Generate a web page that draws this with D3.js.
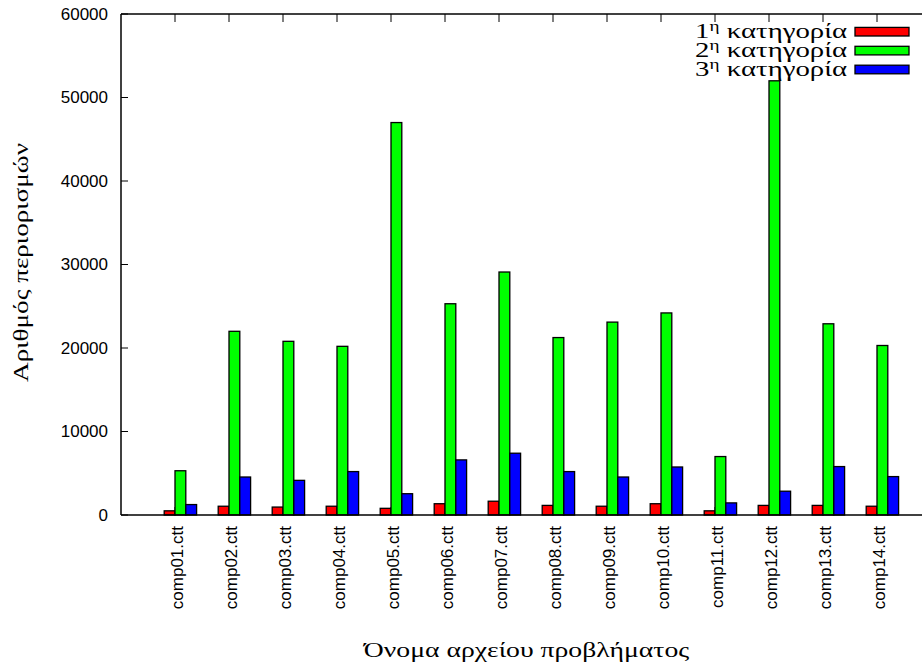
<!DOCTYPE html>
<html>
<head>
<meta charset="utf-8">
<script src="https://cdn.jsdelivr.net/npm/d3@7"></script>
<style>
  html, body { margin: 0; padding: 0; background: #fff; }
  svg { display: block; }
</style>
</head>
<body>
<script>
const categories = ["comp01.ctt","comp02.ctt","comp03.ctt","comp04.ctt","comp05.ctt","comp06.ctt","comp07.ctt",
                    "comp08.ctt","comp09.ctt","comp10.ctt","comp11.ctt","comp12.ctt","comp13.ctt","comp14.ctt"];
const cat1 = [500, 1050, 950, 1050, 800, 1350, 1650, 1150, 1050, 1350, 500, 1150, 1150, 1050];
const cat2 = [5300, 22000, 20800, 20200, 47000, 25300, 29100, 21250, 23100, 24200, 7000, 52000, 22900, 20300];
const cat3 = [1250, 4550, 4150, 5200, 2550, 6600, 7400, 5200, 4550, 5750, 1450, 2850, 5800, 4600];
const seriesNames = ["1", "2", "3"];
const seriesColors = ["#ff0000", "#00ff00", "#0000ff"];
const yTicks = [0, 10000, 20000, 30000, 40000, 50000, 60000];
const yTitle = "Αριθμός περιορισμών";
const xTitle = "Όνομα αρχείου προβλήματος";
const legendWord = "κατηγορία";

const W = 922, H = 670;
const svg = d3.select("body").append("svg").attr("width", W).attr("height", H);

const pLeft = 121, pTop = 14, pBottom = 515;
const x = d3.scaleLinear().domain([-1, 14]).range([pLeft, pLeft + 54 * 15]);
const y = d3.scaleLinear().domain([0, 60000]).range([pBottom, pTop]);
const barW = 0.2;

const series = [cat1, cat2, cat3];

// helper: stretch a text horizontally (in its own frame) to a target width
function fitWidth(sel, target, base) {
  const w = sel.node().getComputedTextLength ? sel.node().getBBox().width : target;
  const s = w > 0 ? target / w : 1;
  sel.attr("transform", base + ` scale(${s},1)`);
}

// bottom ticks (hidden mostly by bars)
svg.append("g").selectAll("line").data(categories).join("line")
  .attr("x1", (d, i) => x(i)).attr("x2", (d, i) => x(i))
  .attr("y1", pBottom).attr("y2", pBottom - 8)
  .attr("stroke", "#000").attr("stroke-width", 1);

// bars
series.forEach((vals, s) => {
  svg.append("g").selectAll("rect").data(vals).join("rect")
    .attr("x", (d, i) => x(i + (s - 1) * barW))
    .attr("width", x(barW) - x(0))
    .attr("y", d => y(d))
    .attr("height", d => y(0) - y(d))
    .attr("fill", seriesColors[s])
    .attr("stroke", "#000")
    .attr("stroke-width", 1.3);
});

// border (top, left, bottom; right is beyond canvas)
const border = svg.append("g").attr("stroke", "#000").attr("stroke-width", 1.5).attr("fill", "none");
border.append("line").attr("x1", pLeft).attr("x2", W).attr("y1", pTop).attr("y2", pTop);
border.append("line").attr("x1", pLeft).attr("x2", W).attr("y1", pBottom).attr("y2", pBottom);
border.append("line").attr("x1", pLeft).attr("x2", pLeft).attr("y1", pTop).attr("y2", pBottom);

// top ticks
svg.append("g").selectAll("line").data(categories).join("line")
  .attr("x1", (d, i) => x(i)).attr("x2", (d, i) => x(i))
  .attr("y1", pTop).attr("y2", pTop + 8)
  .attr("stroke", "#000").attr("stroke-width", 1);

// y ticks + labels
const yg = svg.append("g");
yg.selectAll("line").data(yTicks).join("line")
  .attr("x1", pLeft).attr("x2", pLeft + 7)
  .attr("y1", d => y(d)).attr("y2", d => y(d))
  .attr("stroke", "#000").attr("stroke-width", 1);
yg.selectAll("text").data(yTicks).join("text")
  .attr("x", 108).attr("y", d => y(d))
  .attr("dy", "0.35em")
  .attr("text-anchor", "end")
  .attr("font-family", "Liberation Sans, Arial, sans-serif")
  .attr("font-size", 17)
  .text(d => d);

// x tick labels (rotated)
svg.append("g").selectAll("text").data(categories).join("text")
  .attr("transform", (d, i) => `translate(${x(i)},${pBottom + 11}) rotate(-90)`)
  .attr("x", 0).attr("y", 8)
  .attr("text-anchor", "end")
  .attr("font-family", "Liberation Sans, Arial, sans-serif")
  .attr("font-size", 17)
  .text(d => d);

// axis titles
const serif = "Liberation Serif, DejaVu Serif, serif";
const yt = svg.append("text")
  .attr("text-anchor", "middle")
  .attr("font-family", serif).attr("font-size", 22)
  .text(yTitle);
fitWidth(yt, 239, `translate(28,262.5) rotate(-90)`);
const xt = svg.append("text")
  .attr("text-anchor", "middle")
  .attr("font-family", serif).attr("font-size", 22)
  .text(xTitle);
fitWidth(xt, 327, `translate(526.5,657)`);

// legend
const lg = svg.append("g");
seriesNames.forEach((n, s) => {
  const cy = 31.7 + s * 18.9;
  const t = lg.append("text")
    .attr("x", 0).attr("y", 0)
    .attr("text-anchor", "end")
    .attr("font-family", serif).attr("font-size", 21);
  t.append("tspan").text(n);
  t.append("tspan").attr("dy", -7).attr("font-size", 14).text("η");
  t.append("tspan").attr("dy", 7).text("\u00a0" + legendWord);
  fitWidth(t, 152, `translate(847,${cy + 6.5})`);
  lg.append("rect")
    .attr("x", 855).attr("y", cy - 4.3)
    .attr("width", 54).attr("height", 8.6)
    .attr("fill", seriesColors[s]).attr("stroke", "#000").attr("stroke-width", 1.3);
});
</script>
</body>
</html>
